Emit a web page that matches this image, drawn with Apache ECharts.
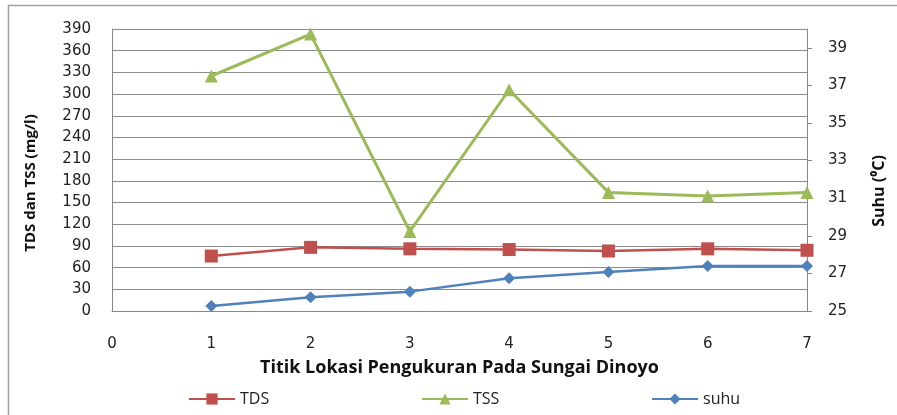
<!DOCTYPE html>
<html>
<head>
<meta charset="utf-8">
<script src="https://cdn.jsdelivr.net/npm/echarts@6/dist/echarts.min.js"></script>
<style>
html, body { margin: 0; padding: 0; background: #fff; }
#content { width: 897px; height: 415px; }
</style>
</head>
<body>
<div id="content"></div>
<script>
// titik lokasi 1..7
var titik = [1, 2, 3, 4, 5, 6, 7];
var tds = [76, 88, 86, 85, 83, 86, 84];
var tss = [325, 383, 110, 306, 164, 159, 164];
var suhu = [25.27, 25.73, 26.03, 26.74, 27.07, 27.39, 27.39];

function pairs(vals) {
    return titik.map(function (t, i) { return [t, vals[i]]; });
}

var tickFont = { fontFamily: 'DejaVu Sans', fontSize: 15, color: '#222' };
var legendText = { fontFamily: 'Open Sans', fontSize: 16, color: '#222' };

var myChart = echarts.init(document.getElementById('content'));
myChart.setOption(
    option = {
        animation: false,
        textStyle: { fontFamily: 'DejaVu Sans' },
        graphic: [
            {
                type: 'rect',
                shape: { x: 8.5, y: 5.5, width: 900, height: 420 },
                style: { fill: 'none', stroke: '#a0a0a0', lineWidth: 1.5 }
            },
            {
                type: 'text',
                x: 31, y: 183,
                rotation: Math.PI / 2,
                style: {
                    text: 'TDS dan TSS (mg/l)',
                    font: 'bold 15px "Open Sans"',
                    fill: '#111',
                    align: 'center',
                    verticalAlign: 'middle'
                }
            },
            {
                type: 'text',
                x: 879, y: 191,
                rotation: Math.PI / 2,
                style: {
                    text: 'Suhu (⁰C)',
                    font: 'bold 16px "Open Sans"',
                    fill: '#111',
                    align: 'center',
                    verticalAlign: 'middle'
                }
            }
        ],
        grid: { left: 112, right: 90, top: 29, bottom: 104 },
        legend: [
            { data: ['TDS'], left: 183, top: 386, itemWidth: 46, itemHeight: 14, itemGap: 4, textStyle: legendText },
            { data: ['TSS'], left: 416, top: 386, itemWidth: 46, itemHeight: 14, itemGap: 4, textStyle: legendText },
            { data: ['suhu'], left: 646, top: 386, itemWidth: 46, itemHeight: 14, itemGap: 4, textStyle: legendText }
        ],
        xAxis: {
            type: 'value',
            min: 0,
            max: 7,
            interval: 1,
            name: 'Titik Lokasi Pengukuran Pada Sungai Dinoyo',
            nameLocation: 'middle',
            nameGap: 48,
            nameTextStyle: { fontFamily: 'Open Sans', fontWeight: 'bold', fontSize: 18, color: '#111' },
            axisLine: { lineStyle: { color: '#888' } },
            axisTick: { show: false },
            splitLine: { show: false },
            axisLabel: Object.assign({ margin: 26 }, tickFont)
        },
        yAxis: [
            {
                type: 'value',
                min: 0,
                max: 390,
                interval: 30,
                axisLine: { show: true, lineStyle: { color: '#888' } },
                axisTick: { show: false },
                splitLine: { lineStyle: { color: '#8c8c8c', width: 1 } },
                axisLabel: Object.assign({ margin: 21 }, tickFont)
            },
            {
                type: 'value',
                min: 25,
                max: 40,
                interval: 2,
                axisLine: { show: true, lineStyle: { color: '#888' } },
                axisTick: { show: true, length: 5, lineStyle: { color: '#888' } },
                splitLine: { show: false },
                axisLabel: Object.assign({ margin: 21, showMaxLabel: false }, tickFont)
            }
        ],
        series: [
            {
                name: 'TDS',
                type: 'line',
                yAxisIndex: 0,
                data: pairs(tds),
                symbol: 'rect',
                symbolSize: 13,
                lineStyle: { color: '#C0504D', width: 2.5 },
                itemStyle: { color: '#C0504D' }
            },
            {
                name: 'TSS',
                type: 'line',
                yAxisIndex: 0,
                data: pairs(tss),
                symbol: 'triangle',
                symbolSize: 13,
                lineStyle: { color: '#9BBB59', width: 3 },
                itemStyle: { color: '#9BBB59' }
            },
            {
                name: 'suhu',
                type: 'line',
                yAxisIndex: 1,
                data: pairs(suhu),
                symbol: 'diamond',
                symbolSize: 12,
                lineStyle: { color: '#4F81BD', width: 2.5 },
                itemStyle: { color: '#4F81BD' }
            }
        ]
    });
</script>
</body>
</html>
